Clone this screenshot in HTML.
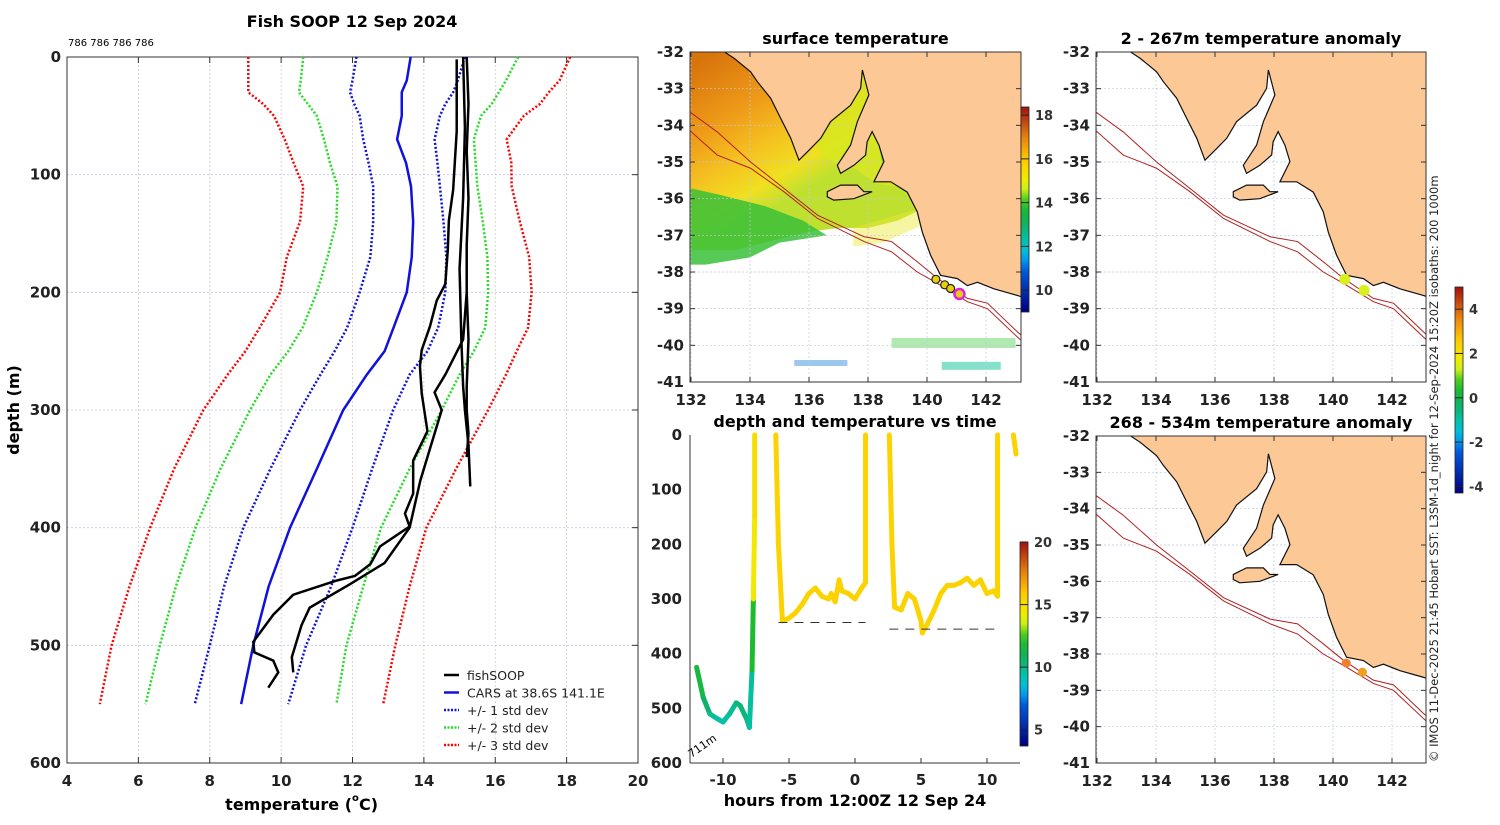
<!DOCTYPE html>
<html><head><meta charset="utf-8"><style>
body{margin:0;background:#fff;width:1500px;height:820px;overflow:hidden;font-family:"Liberation Sans","DejaVu Sans",sans-serif}
svg text{font-family:"DejaVu Sans","Liberation Sans",sans-serif}
.b{font-weight:bold;font-size:15px;fill:#222}
.t{font-weight:bold;font-size:16px;fill:#000}
</style></head><body>
<svg id="s" width="1500" height="820" xmlns="http://www.w3.org/2000/svg"></svg>
<script>
// ---------- profile data ----------
const depths=[0,20,30,40,50,70,90,110,140,170,200,230,250,270,300,350,400,450,500,550];
const carsMean=[13.63,13.52,13.38,13.38,13.38,13.25,13.5,13.64,13.7,13.66,13.52,13.15,12.9,12.4,11.74,11.0,10.25,9.65,9.22,8.88];
const minus1=[12.11,12.0,11.93,12.05,12.2,12.3,12.45,12.58,12.58,12.5,12.2,11.85,11.5,11.1,10.53,9.7,8.94,8.4,8.0,7.58];
const plus1=[15.15,14.95,14.82,14.6,14.45,14.3,14.38,14.45,14.55,14.63,14.6,14.4,14.1,13.6,13.14,12.55,12.0,11.4,10.7,10.2];
const minus2=[10.62,10.55,10.5,10.75,11.0,11.2,11.37,11.58,11.55,11.3,11.0,10.6,10.2,9.7,9.13,8.3,7.6,7.05,6.6,6.2];
const plus2=[16.64,16.3,16.1,15.9,15.6,15.4,15.45,15.5,15.65,15.78,15.8,15.72,15.4,15.0,14.5,13.6,12.8,12.3,11.83,11.55];
const minus3=[9.08,9.08,9.08,9.5,9.8,10.1,10.35,10.62,10.53,10.16,9.97,9.4,9.0,8.5,7.82,7.0,6.33,5.75,5.25,4.92];
const plus3=[18.1,17.8,17.5,17.25,16.8,16.32,16.45,16.46,16.69,16.95,17.02,16.92,16.6,16.3,15.8,14.9,14.07,13.6,13.2,12.86];
const cast1Depth=[0,40,80,120,160,200,240,280,300,320,340];
const cast1Temp=[15.2,15.25,15.2,15.25,15.2,15.2,15.25,15.2,15.2,15.25,15.2];
const cast2Depth=[0,60,120,180,240,280,300,330,365];
const cast2Temp=[15.1,15.15,15.1,15.0,15.05,15.1,15.15,15.25,15.3];
const cast3Depth=[2,63,113,139,164,193,207,229,249,263,286,318,343,371,388,399,416,431,441,445,457,474,497,506,513,523,536];
const cast3Temp=[14.92,14.92,14.82,14.7,14.67,14.6,14.36,14.17,13.94,13.89,13.94,14.1,13.7,13.7,13.47,13.6,12.77,12.5,12.07,11.55,10.34,9.78,9.22,9.25,9.78,9.92,9.64];
const cast4Depth=[200,240,270,285,300,330,360,400,430,448,468,483,500,510,523];
const cast4Temp=[15.2,15.1,14.6,14.3,14.5,14.2,13.9,13.6,12.9,11.93,10.8,10.57,10.4,10.3,10.34];
const tempTicks=[4,6,8,10,12,14,16,18,20];
const depthTicks=[0,100,200,300,400,500,600];
// ---------- depth vs time data ----------
const dive1Hours=[-12,-11.5,-11,-10.5,-10,-9.5,-9,-8.7,-8.2,-8,-7.8,-7.7,-7.6,-7.6];
const dive1Depth=[425,480,510,518,525,510,490,495,520,535,430,300,150,0];
const dive1Temp=[11.5,10.5,9.8,9.5,9.5,9.8,10.2,10.2,10.0,9.6,12,14.5,15,15];
const dive2Hours=[-6,-5.8,-5.5,-5,-4.5,-4,-3.5,-3,-2.5,-2,-1.8,-1.5,-1.2,-1,-0.5,0,0.5,0.8,0.8];
const dive2Depth=[0,200,340,335,325,310,290,280,295,300,290,305,265,285,290,300,280,270,0];
const dive3Hours=[2.6,2.8,3,3.5,4,4.5,5,5.1,5.5,6,6.5,7,7.5,8,8.5,9,9.5,10,10.5,10.8,10.8];
const dive3Depth=[0,200,315,320,290,300,340,362,345,320,290,275,275,270,262,275,265,290,285,295,0];
const dive4Hours=[12,12.2];
const dive4Depth=[0,35];
const hourTicks=[-10,-5,0,5,10];
// ---------- map data ----------
const coastLon=[132.95,133.46,134.02,134.25,134.70,135.04,135.38,135.66,136.06,136.40,136.73,137.41,137.75,137.81,138.03,137.64,137.41,136.96,137.07,137.52,137.92,137.97,138.14,138.37,138.54,138.20,138.77,139.33,139.67,139.84,140.12,140.46,141.03,141.37,141.71,142.27,143.06,143.3,143.3];
const coastLat=[-31.9,-32.17,-32.54,-32.81,-33.26,-33.81,-34.35,-34.95,-34.63,-34.35,-33.90,-33.45,-32.99,-32.49,-33.17,-33.90,-34.54,-35.09,-35.31,-35.09,-34.81,-34.45,-34.17,-34.54,-34.99,-35.54,-35.54,-35.82,-36.36,-36.91,-37.54,-38.09,-38.18,-38.37,-38.28,-38.46,-38.64,-38.7,-31.9];
const kiLon=[136.62,137.07,137.64,137.86,138.14,137.52,136.84,136.62];
const kiLat=[-35.81,-35.63,-35.63,-35.81,-35.81,-36.0,-36.04,-35.95];
const isoLon=[131.9,132.89,134.02,135.15,136.29,137.87,138.8,139.67,140.35,141.37,142.05,143.06,143.3];
const iso200Lat=[-33.6,-34.18,-35.0,-35.72,-36.45,-37.04,-37.17,-37.72,-38.17,-38.72,-38.85,-39.63,-39.8];
const iso1000Lat=[-34.1,-34.81,-35.17,-35.81,-36.54,-37.17,-37.45,-38.0,-38.31,-38.81,-39.0,-39.77,-39.95];
const stnLon=[140.3,140.6,140.8,141.1];
const stnLat=[-38.2,-38.35,-38.45,-38.6];
const lonTicks=[132,134,136,138,140,142];
const latTicks=[-32,-33,-34,-35,-36,-37,-38,-39,-40,-41];

const NS="http://www.w3.org/2000/svg", S=document.getElementById('s');
function el(t,a,p){const e=document.createElementNS(NS,t);for(const k in a)e.setAttribute(k,a[k]);(p||S).appendChild(e);return e}
function txt(x,y,s,a,p){const e=el('text',Object.assign({x:x,y:y},a||{}),p);e.textContent=s;return e}
const CS=[[0,[0,0,128]],[0.107,[0,48,176]],[0.213,[0,96,224]],[0.267,[0,176,240]],[0.32,[0,200,200]],[0.427,[16,176,96]],[0.534,[32,192,32]],[0.587,[192,240,32]],[0.64,[240,240,0]],[0.747,[255,200,0]],[0.854,[232,128,16]],[1,[160,16,16]]];
function cmap(v){v=Math.max(0,Math.min(1,v));for(let i=1;i<CS.length;i++){if(v<=CS[i][0]){const f=(v-CS[i-1][0])/(CS[i][0]-CS[i-1][0]);const a=CS[i-1][1],b=CS[i][1];return `rgb(${a.map((c,k)=>Math.round(c+(b[k]-c)*f)).join(',')})`}}return 'rgb(160,16,16)'}
function line(xs,ys,a,p){return el('polyline',Object.assign({points:xs.map((x,i)=>x+','+ys[i]).join(' '),fill:'none'},a),p)}

// ===== left profile =====
const L=67,R=638,T=57,B=763;
const tx=v=>L+(v-4)/16*(R-L), dy=v=>T+v/600*(B-T);
const gp=el('g',{});

tempTicks.forEach(v=>{el('line',{x1:tx(v),x2:tx(v),y1:T,y2:B,stroke:'#d8c8c0','stroke-dasharray':'2,2','stroke-width':0.8},gp);el('line',{x1:tx(v),x2:tx(v),y1:B,y2:B-6,stroke:'#333'},gp);el('line',{x1:tx(v),x2:tx(v),y1:T,y2:T+6,stroke:'#333'},gp);txt(tx(v),786,v,{class:'b','text-anchor':'middle'},gp)});
depthTicks.forEach(v=>{el('line',{x1:L,x2:R,y1:dy(v),y2:dy(v),stroke:'#c0c8e8','stroke-dasharray':'2,2','stroke-width':0.8},gp);el('line',{x1:R,x2:R-6,y1:dy(v),y2:dy(v),stroke:'#333'},gp);txt(L-6,dy(v)+5,v,{class:'b','text-anchor':'end'},gp)});
el('rect',{x:L,y:T,width:R-L,height:B-T,fill:'none',stroke:'#333'},gp);
[[minus3,'red'],[plus3,'red'],[minus2,'#2d2'],[plus2,'#2d2'],[minus1,'#11d'],[plus1,'#11d']].forEach(([a,c])=>{const l=line(a.map(tx),depths.map(dy),{stroke:c,'stroke-width':2.5,'stroke-dasharray':'2,2'},gp);});
const cm=line(carsMean.map(tx),depths.map(dy),{stroke:'#11d','stroke-width':2.5},gp);
[[cast1Temp,cast1Depth],[cast2Temp,cast2Depth],[cast3Temp,cast3Depth],[cast4Temp,cast4Depth]].forEach(([t,d])=>{const l=line(t.map(tx),d.map(dy),{stroke:'#000','stroke-width':2.5},gp);});
txt(352,27,'Fish SOOP 12 Sep 2024',{class:'t','text-anchor':'middle'},gp);
txt(68,46,'786 786 786 786',{'font-size':10,fill:'#000'},gp);
txt(352,810,'temperature (',{class:'t','text-anchor':'end','font-size':16},gp);
txt(352,801,'o',{'font-size':10,'font-weight':'bold'},gp);txt(359,810,'C)',{class:'t'},gp);
txt(19,410,'depth (m)',{class:'t','text-anchor':'middle',transform:'rotate(-90 19 410)'},gp);
const lg=el('g',{},gp);
[['fishSOOP','#000',0],['CARS at 38.6S 141.1E','#11d',0],['+/- 1 std dev','#11d',1],['+/- 2 std dev','#2d2',1],['+/- 3 std dev','red',1]].forEach(([s,c,d],i)=>{const y=675+i*17.5;el('line',{x1:444,x2:459,y1:y,y2:y,stroke:c,'stroke-width':2.5,'stroke-dasharray':d?'2,1.5':'none'},lg);txt(467,y+5,s,{'font-size':12.5,fill:'#222'},lg)});

// ===== map helper =====
function mapPanel(name,x0,y0,x1,y1,title,sst){
  const g=el('g',{});
  const px=l=>x0+1+(l-132)*29.5, py=a=>y0+(-32-a)/9*(y1-y0);
  const P=arr=>arr.map(p=>px(p[0])+','+py(p[1])).join(' ');
  const cid='c'+name;const cp=el('clipPath',{id:cid},g);el('rect',{x:x0,y:y0,width:x1-x0,height:y1-y0},cp);
  const inner=el('g',{'clip-path':`url(#${cid})`},g);
  if(sst){
    const gr=el('linearGradient',{id:'sg',x1:0,y1:0.1,x2:0.55,y2:0.9},g);
    [['0','#d8740c'],['0.3','#ee9a18'],['0.5','#f5c020'],['0.68','#f0e020'],['0.8','#c0e030']].forEach(([o,c])=>el('stop',{offset:o,'stop-color':c},gr));
    el('polygon',{points:P([[131.9,-31.9],[139.8,-31.9],[139.8,-36.3],[139,-36.6],[138,-36.8],[137,-36.8],[136,-36.9],[134.5,-37.2],[133.5,-37.4],[131.9,-37.4]]),fill:'url(#sg)'},inner);
    el('polygon',{points:P([[135.6,-33.5],[138.4,-32.3],[139.5,-34],[139.3,-35.7],[138.3,-35.6],[137.6,-35.2],[136.5,-34.9]]),fill:'#d8e820',opacity:0.85},inner);
    el('polygon',{points:P([[138.3,-34.3],[139.2,-34.2],[139.2,-35.5],[138.6,-35.5]]),fill:'#70c830',opacity:0.8},inner);
    el('polygon',{points:P([[131.9,-35.7],[133,-35.9],[134.5,-36.2],[135.8,-36.6],[136.6,-37.0],[135,-37.2],[134,-37.6],[132.5,-37.8],[131.9,-37.8]]),fill:'#38c038',opacity:0.85},inner);
    el('polygon',{points:P([[137.5,-36.8],[139.6,-36.3],[139.9,-36.7],[138.5,-37.2],[137.5,-37.3]]),fill:'#e8e830',opacity:0.45},inner);
    el('rect',{x:px(135.5),y:py(-40.4),width:px(137.3)-px(135.5),height:6,fill:'#3a90e0',opacity:0.5},inner);
    el('rect',{x:px(138.8),y:py(-39.8),width:px(143)-px(138.8),height:10,fill:'#50d050',opacity:0.45},inner);
    el('rect',{x:px(140.5),y:py(-40.45),width:px(142.5)-px(140.5),height:8,fill:'#20c8a0',opacity:0.55},inner);
  }
  lonTicks.forEach(v=>{el('line',{x1:px(v),x2:px(v),y1:y0,y2:y1,stroke:'#c0c8e0','stroke-dasharray':'2,2','stroke-width':0.7},inner);el('line',{x1:px(v),x2:px(v),y1:y1,y2:y1-5,stroke:'#333'},g);el('line',{x1:px(v),x2:px(v),y1:y0,y2:y0+5,stroke:'#333'},g);txt(px(v),y1+23,v,{class:'b','text-anchor':'middle'},g)});
  latTicks.forEach(v=>{el('line',{x1:x0,x2:x1,y1:py(v),y2:py(v),stroke:'#c0c8e0','stroke-dasharray':'2,2','stroke-width':0.7},inner);el('line',{x1:x1,x2:x1-5,y1:py(v),y2:py(v),stroke:'#333'},g);el('line',{x1:x0,x2:x0+5,y1:py(v),y2:py(v),stroke:'#333'},g);txt(x0-6,py(v)+5,v,{class:'b','text-anchor':'end'},g)});
  const land=el('polygon',{points:coastLon.map((l,i)=>px(l)+','+py(coastLat[i])).join(' '),fill:'#fbc896',stroke:'#111','stroke-width':1.2},inner);
  
  el('polygon',{points:kiLon.map((l,i)=>px(l)+','+py(kiLat[i])).join(' '),fill:'#fbc896',stroke:'#111','stroke-width':1.2},inner);
  line(isoLon.map(px),iso200Lat.map(py),{stroke:'#b02020','stroke-width':1},inner);
  line(isoLon.map(px),iso1000Lat.map(py),{stroke:'#b02020','stroke-width':1},inner);
  el('rect',{x:x0,y:y0,width:x1-x0,height:y1-y0,fill:'none',stroke:'#333'},g);
  txt((x0+x1)/2,y0-8,title,{class:'t','text-anchor':'middle'},g);
  return {g,px,py};
}
const m1=mapPanel('surface-temperature-map',690,52,1021,382,'surface temperature',true);
stnLon.forEach((l,i)=>{const c=el('circle',{cx:m1.px(l),cy:m1.py(stnLat[i]),r:i==3?5:4,fill:'#e8d010',stroke:i==3?'#e020e0':'#222','stroke-width':i==3?2.5:1.2},m1.g);});
const m2=mapPanel('anomaly-map-shallow',1096,52,1426,382,'2 - 267m temperature anomaly',false);
[[140.4,-38.2,'#d8f020'],[141.05,-38.5,'#d8f020']].forEach(([l,a,c])=>{const e=el('circle',{cx:m2.px(l),cy:m2.py(a),r:5.5,fill:c},m2.g);});
const m3=mapPanel('anomaly-map-deep',1096,436,1426,763,'268 - 534m temperature anomaly',false);
[[140.45,-38.25,'#f08030'],[141.0,-38.5,'#f0a020']].forEach(([l,a,c])=>{const e=el('circle',{cx:m3.px(l),cy:m3.py(a),r:4.5,fill:c},m3.g);});

// ===== depth vs time =====
const X0=690,X1=1020,Y0=435,Y1=763;
const hx=h=>X0+(h+12.5)/25*(X1-X0), hy=d=>Y0+d/600*(Y1-Y0);
const gd=el('g',{});
hourTicks.forEach(v=>{el('line',{x1:hx(v),x2:hx(v),y1:Y1,y2:Y1-5,stroke:'#333'},gd);txt(hx(v),785,v,{class:'b','text-anchor':'middle'},gd)});
depthTicks.forEach(v=>txt(X0-8,hy(v)+5,v,{class:'b','text-anchor':'end'},gd));
el('line',{x1:X0,y1:Y0,x2:X0,y2:Y1,stroke:'#333'},gd);el('line',{x1:X0,y1:Y1,x2:X1,y2:Y1,stroke:'#333'},gd);
function dive(h,d,t){for(let i=0;i<h.length-1;i++){const tv=t?t[i]:15.4;const s=el('line',{x1:hx(h[i]),y1:hy(d[i]),x2:hx(h[i+1]),y2:hy(d[i+1]),stroke:cmap((tv-3.7)/16.3),'stroke-width':5,'stroke-linecap':'round'},gd);}}
dive(dive1Hours,dive1Depth,dive1Temp);dive(dive2Hours,dive2Depth);dive(dive3Hours,dive3Depth);dive(dive4Hours,dive4Depth);
el('line',{x1:hx(-5.8),x2:hx(0.8),y1:hy(343),y2:hy(343),stroke:'#333','stroke-dasharray':'9,7'},gd);
el('line',{x1:hx(2.6),x2:hx(10.8),y1:hy(355),y2:hy(355),stroke:'#333','stroke-dasharray':'9,7'},gd);
txt(hx(-12.4),758,'711m',{'font-size':11,transform:`rotate(-35 ${hx(-12.4)} 758)`},gd);
txt(855,427,'depth and temperature vs time',{class:'t','text-anchor':'middle'},gd);
txt(855,806,'hours from 12:00Z 12 Sep 24',{class:'t','text-anchor':'middle'},gd);

// ===== colorbars =====
function cbar(name,x,y,h,lo,hi,ticks){const g=el('g',{});
  const id='g'+name;const gr=el('linearGradient',{id:id,x1:0,y1:1,x2:0,y2:0},g);for(let i=0;i<=20;i++)el('stop',{offset:i/20,'stop-color':cmap(i/20)},gr);
  el('rect',{x:x,y:y,width:8,height:h,fill:`url(#${id})`,stroke:'#222','stroke-width':0.8},g);
  ticks.forEach(v=>{const yy=y+h-(v-lo)/(hi-lo)*h;el('line',{x1:x,x2:x+8,y1:yy,y2:yy,stroke:'#222'},g);txt(x+14,yy+5,v,{'font-size':13,'font-weight':'bold',fill:'#333'},g)});}
cbar('sst-colorbar',1021,107,205,9,18.37,[10,12,14,16,18]);
cbar('time-colorbar',1020,542,204,3.7,20,[5,10,15,20]);
cbar('anomaly-colorbar',1455,287,206,-4.3,5,[-4,-2,0,2,4]);
const cr=txt(1438,762,'© IMOS 11-Dec-2025 21:45 Hobart SST: L3SM-1d_night for 12-Sep-2024 15:20Z isobaths: 200  1000m',{'font-size':11.5,fill:'#222',transform:'rotate(-90 1438 762)'});

</script>
</body></html>
